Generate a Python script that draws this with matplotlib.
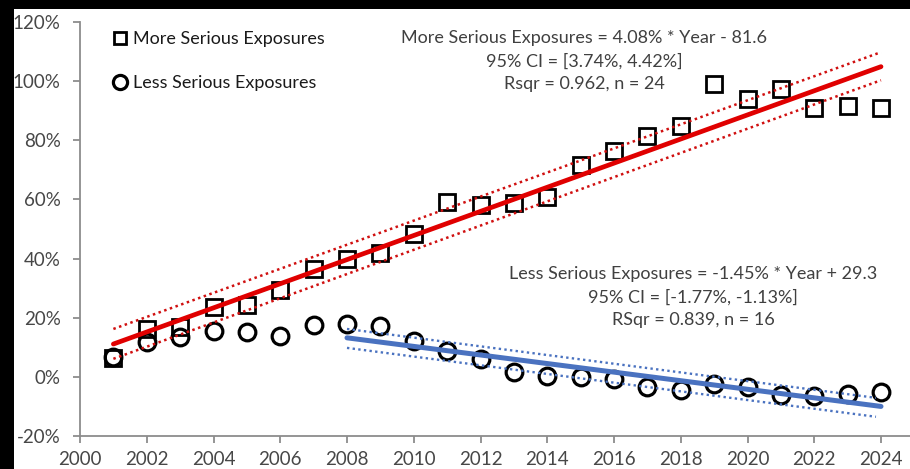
import matplotlib
matplotlib.use("Agg")
import matplotlib.pyplot as plt
from matplotlib.patches import Rectangle
from matplotlib.ticker import FuncFormatter, MultipleLocator

plt.rcParams['font.family'] = ['Lato', 'DejaVu Sans']

# Annual exposure shares (%)
years = list(range(2001, 2025))
more_serious = [6.4, 16.2, 16.9, 23.6, 24.3, 29.4, 36.5, 39.9, 41.9, 48.3, 59.0, 58.1,
                58.8, 60.8, 71.6, 76.4, 81.4, 84.8, 99.0, 93.9, 97.3, 90.9, 91.6, 90.9]
less_serious = [6.8, 11.8, 13.5, 15.5, 15.2, 13.9, 17.6, 17.9, 17.2, 12.2, 8.8, 6.1,
                1.7, 0.3, -0.1, -0.7, -3.4, -4.4, -2.4, -3.4, -6.1, -6.4, -5.7, -5.1]

# Linear trends with 95% confidence bands (end points)
more_fit_years = [2001, 2024]
more_fit = [11.1, 104.9]
more_upper = [16.2, 109.8]
more_lower = [6.1, 100.3]

less_fit_years = [2008, 2024]
less_fit = [13.2, -10.0]
less_band_years = [2008, 2023.85]
less_upper = [16.2, -7.1]
less_lower = [9.8, -13.5]

W, H = 910, 469
fig = plt.figure(figsize=(W / 100, H / 100), dpi=100, facecolor='black')
fig.patches.append(Rectangle((14 / W, 0), 1, 1 - 9 / H, transform=fig.transFigure,
                             facecolor='white', edgecolor='none', zorder=-5))

px_per_year = (881 - 80) / 24
x_right = 2025
ax = fig.add_axes([80 / W, (H - 436) / H, px_per_year * (x_right - 2000) / W, (436 - 22) / H])
ax.set_facecolor('none')
ax.set_zorder(2)

red = '#e00000'
red_dot = '#d01010'
blue = '#4a72c0'

ax.plot(years, more_serious, linestyle='none', marker='s', markersize=11,
        markerfacecolor='none', markeredgecolor='black', markeredgewidth=2.0,
        label='More Serious Exposures', zorder=3)
ax.plot(years, less_serious, linestyle='none', marker='o', markersize=12,
        markerfacecolor='none', markeredgecolor='black', markeredgewidth=2.3,
        label='Less Serious Exposures', zorder=3)

ax.plot(more_fit_years, more_fit, color=red, linewidth=3.4, solid_capstyle='round', zorder=4)
ax.plot(more_fit_years, more_upper, color=red_dot, linewidth=1.8, linestyle=(0, (1, 1.4)), zorder=4)
ax.plot(more_fit_years, more_lower, color=red_dot, linewidth=1.8, linestyle=(0, (1, 1.4)), zorder=4)

ax.plot(less_fit_years, less_fit, color=blue, linewidth=3.6, solid_capstyle='round', zorder=4)
ax.plot(less_band_years, less_upper, color=blue, linewidth=1.7, linestyle=(0, (1, 1.4)), zorder=4)
ax.plot(less_band_years, less_lower, color=blue, linewidth=1.7, linestyle=(0, (1, 1.4)), zorder=4)

ax.set_xlim(2000, x_right)
ax.set_ylim(-20, 120)
ax.set_xticks(range(2000, 2025, 2))
ax.yaxis.set_major_locator(MultipleLocator(20))
ax.yaxis.set_major_formatter(FuncFormatter(lambda v, p: f"{v:.0f}%"))

for s in ('top', 'right'):
    ax.spines[s].set_visible(False)
for s in ('left', 'bottom'):
    ax.spines[s].set_color('#8c8c8c')
    ax.spines[s].set_linewidth(1.3)
ax.tick_params(axis='both', colors='#8c8c8c', length=5, width=1.3, labelsize=13.5,
               labelcolor='#474747')
ax.tick_params(axis='x', pad=5.5)
ax.tick_params(axis='y', pad=9)

leg = ax.legend(loc='upper left', bbox_to_anchor=(113 / W, 1 - 31 / H),
                bbox_transform=fig.transFigure, frameon=False, fontsize=13,
                markerscale=0.85, handlelength=0.8, handletextpad=0.3,
                labelspacing=1.55, borderpad=0, borderaxespad=0)
for t in leg.get_texts():
    t.set_color('#1a1a1a')

ann_color = '#404040'
fig.text(584 / W, 1 - 61 / H,
         "More Serious Exposures = 4.08% * Year - 81.6\n95% CI = [3.74%, 4.42%]\nRsqr = 0.962, n = 24",
         ha='center', va='center', fontsize=13, color=ann_color, linespacing=1.55)
fig.text(693 / W, 1 - 297 / H,
         "Less Serious Exposures = -1.45% * Year + 29.3\n95% CI = [-1.77%, -1.13%]\nRSqr = 0.839, n = 16",
         ha='center', va='center', fontsize=13, color=ann_color, linespacing=1.55)

fig.savefig('out.png', dpi=100, facecolor=fig.get_facecolor())
